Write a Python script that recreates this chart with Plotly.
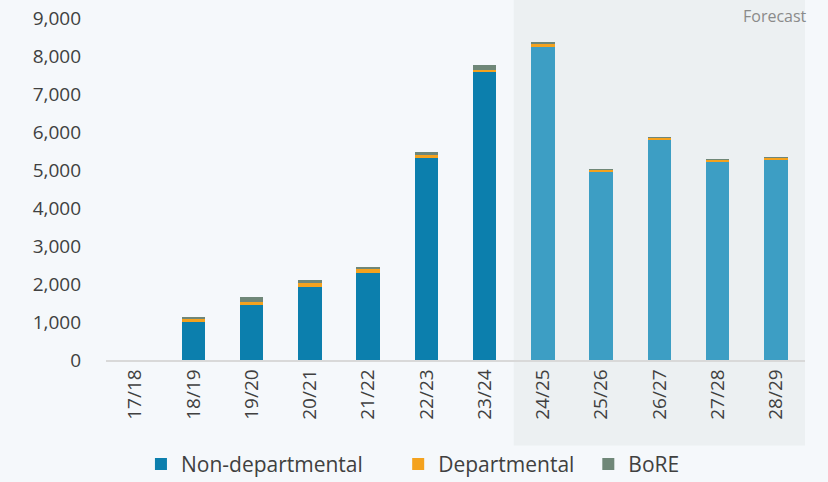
import plotly.graph_objects as go

years = ["17/18", "18/19", "19/20", "20/21", "21/22", "22/23", "23/24",
         "24/25", "25/26", "26/27", "27/28", "28/29"]
non_departmental = [0, 1000, 1470, 1930, 2280, 5320, 7580, 8240, 4950, 5790, 5210, 5260]
departmental = [0, 80, 50, 90, 120, 70, 50, 80, 60, 60, 60, 60]
bore = [0, 50, 130, 80, 60, 90, 130, 60, 10, 10, 10, 10]
forecast_start = "24/25"

n_hist = years.index(forecast_start)
blue_cols = ["#0c7fad"] * n_hist + ["#3d9ec4"] * (len(years) - n_hist)

fig = go.Figure()
fig.add_bar(x=years, y=non_departmental, name="Non-departmental", legend="legend",
            marker=dict(color=blue_cols, line=dict(width=0)))
fig.add_bar(x=years, y=departmental, name="Departmental", legend="legend2",
            marker=dict(color="#f4a21e", line=dict(width=0)))
fig.add_bar(x=years, y=bore, name="BoRE", legend="legend3",
            marker=dict(color="#6f8778", line=dict(width=0)))

# shaded forecast period
fig.add_shape(type="rect", xref="x", yref="paper",
              x0=n_hist - 0.5, x1=len(years) - 0.5 + 0.5,
              y0=-0.25, y1=1.06, fillcolor="#ecf0f2", line=dict(width=0),
              layer="below")
fig.add_annotation(text="Forecast", xref="paper", yref="paper",
                   x=1.006, y=1.045, xanchor="right", yanchor="top",
                   showarrow=False,
                   font=dict(family="Open Sans", size=16, color="#8a8a8a"))

legend_style = dict(orientation="h", xanchor="left", y=-0.245, yanchor="top",
                    font=dict(size=21, color="#404040"),
                    itemwidth=30, bgcolor="rgba(0,0,0,0)")

fig.update_layout(
    width=828, height=482,
    margin=dict(l=106, r=23, t=18, b=122, autoexpand=False),
    barmode="stack", bargap=0.6,
    paper_bgcolor="#f5f8fb", plot_bgcolor="rgba(0,0,0,0)",
    font=dict(family="Open Sans", color="#404040"),
    showlegend=True,
    legend=dict(x=0.050, **legend_style),
    legend2=dict(x=0.418, **legend_style),
    legend3=dict(x=0.690, **legend_style),
    xaxis=dict(type="category", tickangle=-90, showgrid=False,
               showline=True, linecolor="#d9d9d9", linewidth=1.5,
               ticks="", tickfont=dict(size=19, color="#404040"),
               range=[-0.5, len(years) - 0.5]),
    yaxis=dict(range=[0, 9000], dtick=1000, tickformat=",", showgrid=False,
               zeroline=False, ticks="", ticklabelstandoff=24,
               tickfont=dict(family="Open Sans", size=19, color="#404040")),
)

fig.write_html("out.html")
